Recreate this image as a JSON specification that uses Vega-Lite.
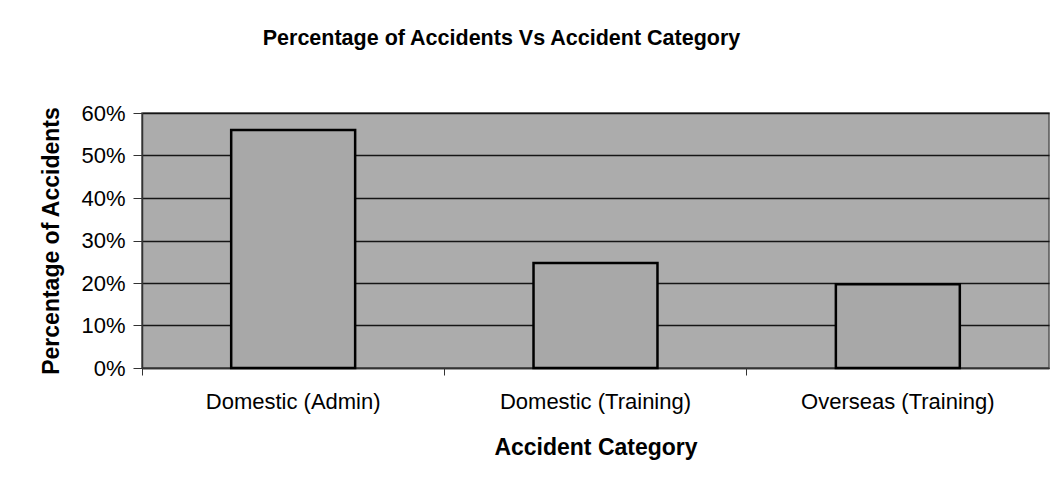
{
  "$schema": "https://vega.github.io/schema/vega-lite/v6.json",
  "width": 907,
  "height": 255,
  "autosize": {"type": "none"},
  "padding": {"left": 142, "top": 113, "right": 9, "bottom": 125},
  "background": "white",
  "title": {
    "text": "Percentage of Accidents Vs Accident Category",
    "font": "Liberation Sans",
    "fontSize": 21.5,
    "fontWeight": "bold",
    "color": "black",
    "anchor": "middle",
    "dx": -94,
    "offset": 53
  },
  "config": {
    "view": {"fill": "#acacac", "stroke": "#555555", "strokeWidth": 1.5},
    "axis": {
      "labelFont": "Liberation Sans",
      "titleFont": "Liberation Sans",
      "labelColor": "black",
      "titleColor": "black",
      "domainColor": "#333333",
      "tickColor": "#333333",
      "labelLimit": 400
    }
  },
  "data": {
    "values": [
      {"category": "Domestic (Admin)", "pct": 0.56},
      {"category": "Domestic (Training)", "pct": 0.247},
      {"category": "Overseas (Training)", "pct": 0.197}
    ]
  },
  "mark": {
    "type": "bar",
    "fill": "#a8a8a8",
    "stroke": "black",
    "strokeWidth": 2.5,
    "width": {"band": 0.41}
  },
  "encoding": {
    "x": {
      "field": "category",
      "type": "nominal",
      "sort": null,
      "scale": {"paddingInner": 0, "paddingOuter": 0},
      "axis": {
        "title": "Accident Category",
        "titleFontSize": 23,
        "titleFontWeight": "bold",
        "titlePadding": 24,
        "labelFontSize": 22,
        "labelFontWeight": "normal",
        "labelAngle": 0,
        "labelPadding": 16,
        "labelOffset": 0,
        "labelLimit": 400,
        "bandPosition": 0,
        "ticks": true,
        "tickSize": 7,
        "grid": false,
        "domainWidth": 1.5
      }
    },
    "y": {
      "field": "pct",
      "type": "quantitative",
      "scale": {"domain": [0, 0.6], "nice": false},
      "axis": {
        "title": "Percentage of Accidents",
        "titleFontSize": 23,
        "titleFontWeight": "bold",
        "titlePadding": 17,
        "labelFontSize": 22,
        "labelPadding": 8,
        "values": [0, 0.1, 0.2, 0.3, 0.4, 0.5, 0.6],
        "format": ".0%",
        "tickSize": 9,
        "grid": true,
        "gridColor": "#151515",
        "gridWidth": 1.5,
        "domainWidth": 1.5
      }
    }
  }
}
